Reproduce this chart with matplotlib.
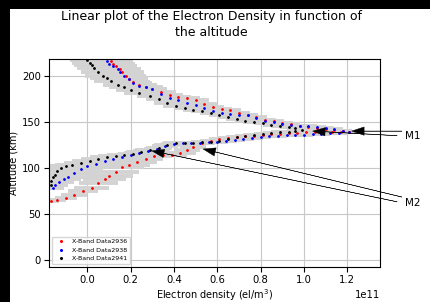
import matplotlib

matplotlib.use("Agg")

import matplotlib.pyplot as plt
from matplotlib.patches import Rectangle
import numpy as np

# densities in units of 1e11 el/m^3, altitudes in km, x-errors in 1e11 el/m^3
red_density = [0.11, 0.12, 0.13, 0.15, 0.16, 0.18, 0.19, 0.21, 0.24, 0.27,
               0.30, 0.34, 0.38, 0.42, 0.46, 0.50, 0.54, 0.58, 0.62, 0.66,
               0.70, 0.74, 0.78, 0.82, 0.86, 0.90, 0.94, 0.98, 1.02, 1.06,
               1.10, 1.14, 1.18, 1.21,
               1.17, 1.13, 1.09, 1.05, 1.01, 0.97, 0.93, 0.89, 0.85, 0.81,
               0.77, 0.73, 0.69, 0.65, 0.61, 0.57, 0.53, 0.49, 0.46, 0.43,
               0.39, 0.35, 0.31, 0.27, 0.23, 0.19, 0.16, 0.13, 0.10, 0.08,
               0.05, 0.02, -0.02, -0.06, -0.10, -0.14, -0.17]
red_altitude = [217, 214, 211, 208, 205, 201, 197, 194, 191, 188,
                186, 183, 180, 178, 176, 174, 170, 167, 165, 163,
                160, 158, 156, 153, 151, 149, 148, 146, 145, 144,
                143, 141.5, 140.5, 140,
                139.5, 139.5, 139, 139, 139, 138.5, 138, 137.5, 137, 136,
                135.5, 135, 134, 133, 131.5, 130, 127, 123, 120, 117,
                115, 114, 113, 110, 107, 104, 101, 96, 92, 88,
                84, 79, 75, 71, 68, 66, 64]
red_error = [0.10, 0.10, 0.10, 0.10, 0.10, 0.09, 0.08, 0.08, 0.08, 0.08,
             0.07, 0.07, 0.06, 0.06, 0.06, 0.06, 0.06, 0.05, 0.05, 0.05,
             0.05, 0.05, 0.05, 0.05, 0.05, 0.05, 0.04, 0.04, 0.04, 0.04,
             0.04, 0.04, 0.04, 0.04,
             0.04, 0.04, 0.04, 0.04, 0.04, 0.04, 0.04, 0.04, 0.04, 0.04,
             0.05, 0.05, 0.05, 0.05, 0.05, 0.05, 0.06, 0.06, 0.06, 0.07,
             0.07, 0.07, 0.08, 0.08, 0.09, 0.10, 0.10, 0.11, 0.11, 0.10,
             0.09, 0.08, 0.07, 0.06, 0.05, 0.04, 0.04]

blue_density = [0.09, 0.10, 0.12, 0.14, 0.15, 0.17, 0.19, 0.21, 0.24, 0.27,
                0.30, 0.34, 0.38, 0.42, 0.46, 0.50, 0.54, 0.58, 0.62, 0.66,
                0.70, 0.74, 0.78, 0.82, 0.86, 0.90, 0.94, 0.98, 1.02, 1.06,
                1.10, 1.14, 1.18, 1.21,
                1.16, 1.12, 1.08, 1.04, 1.00, 0.96, 0.92, 0.88, 0.84, 0.80,
                0.76, 0.72, 0.68, 0.64, 0.60, 0.56, 0.52, 0.48, 0.44, 0.40,
                0.36, 0.32, 0.28, 0.24, 0.20, 0.16, 0.12, 0.08, 0.04, 0.00,
                -0.03, -0.06, -0.09, -0.11, -0.13, -0.15, -0.16]
blue_altitude = [217, 214, 211, 208, 205, 201, 197, 193, 190, 188,
                 186, 181, 177, 174, 171, 169, 166, 162, 160, 159,
                 158, 157.5, 155, 152, 150, 148, 147, 146.5, 146, 145,
                 144, 143, 141, 139.5,
                 138.5, 138, 137.5, 137, 136.5, 136, 136, 135.5, 135, 134,
                 133, 132, 131, 130, 129, 128.5, 128, 127.5, 127, 126.5,
                 124, 121, 119, 117, 114, 112, 110, 108, 105, 102,
                 99, 95, 91, 88, 85, 82, 79]
blue_error = [0.12, 0.12, 0.11, 0.11, 0.10, 0.10, 0.09, 0.09, 0.08, 0.08,
              0.07, 0.07, 0.06, 0.06, 0.06, 0.06, 0.05, 0.05, 0.05, 0.05,
              0.05, 0.05, 0.05, 0.05, 0.05, 0.04, 0.04, 0.04, 0.04, 0.04,
              0.04, 0.04, 0.04, 0.04,
              0.04, 0.04, 0.04, 0.04, 0.04, 0.04, 0.04, 0.04, 0.04, 0.05,
              0.05, 0.05, 0.05, 0.05, 0.05, 0.05, 0.05, 0.05, 0.05, 0.06,
              0.06, 0.06, 0.07, 0.07, 0.08, 0.08, 0.09, 0.09, 0.10, 0.10,
              0.10, 0.10, 0.09, 0.08, 0.07, 0.06, 0.05]

black_density = [0.00, 0.01, 0.02, 0.03, 0.05, 0.07, 0.09, 0.11, 0.14, 0.17,
                 0.20, 0.24, 0.29, 0.33, 0.37, 0.41, 0.45, 0.49, 0.53, 0.57,
                 0.61, 0.65, 0.69, 0.73, 0.77, 0.81, 0.85, 0.89, 0.93, 0.96,
                 0.99,
                 0.96, 0.93, 0.89, 0.85, 0.81, 0.77, 0.73, 0.69, 0.65, 0.61,
                 0.57, 0.53, 0.49, 0.45, 0.41, 0.37, 0.33, 0.29, 0.25, 0.21,
                 0.17, 0.13, 0.09, 0.05, 0.01, -0.03, -0.07, -0.10, -0.12, -0.14,
                 -0.15, -0.16, -0.17, -0.17]
black_altitude = [218, 215, 212, 209, 205, 201, 198, 195, 191, 188,
                  185, 182, 179, 175, 171, 168, 166, 164, 162, 160,
                  158, 156, 154, 152, 150, 149, 147.5, 146, 145, 143.5,
                  142,
                  140.5, 140, 139, 138, 137, 136, 135, 134, 132, 130,
                  129, 128.5, 128, 127.5, 127, 125, 122, 120, 118, 116,
                  115, 113, 112, 110, 108, 106, 104, 102, 100, 97,
                  93, 90, 86, 82]
black_error = [0.08, 0.08, 0.08, 0.08, 0.08, 0.08, 0.08, 0.08, 0.07, 0.07,
               0.07, 0.07, 0.06, 0.06, 0.06, 0.06, 0.05, 0.05, 0.05, 0.05,
               0.05, 0.05, 0.05, 0.05, 0.05, 0.04, 0.04, 0.04, 0.04, 0.04,
               0.04,
               0.04, 0.04, 0.04, 0.04, 0.04, 0.05, 0.05, 0.05, 0.05, 0.05,
               0.05, 0.05, 0.05, 0.05, 0.06, 0.06, 0.06, 0.07, 0.07, 0.07,
               0.08, 0.08, 0.08, 0.08, 0.08, 0.08, 0.08, 0.08, 0.07, 0.06,
               0.06, 0.05, 0.05, 0.04]

SERIES = [
    ("X-Band Data2936", "red", red_density, red_altitude, red_error),
    ("X-Band Data2938", "blue", blue_density, blue_altitude, blue_error),
    ("X-Band Data2941", "black", black_density, black_altitude, black_error),
]

SCALE = 1e11
FONT_TICKS = 7.2

fig = plt.figure(figsize=(4.30, 3.02), dpi=100, facecolor="black")
fig.patches.append(Rectangle((10 / 430, 0), 1, 293 / 302, transform=fig.transFigure,
                             facecolor="white", edgecolor="none", zorder=-1))
ax = fig.add_axes([49 / 430, 35 / 302, 331 / 430, 208 / 302])

# grey error bands first, then the markers on top
for label, color, dens, alt, err in SERIES:
    ax.errorbar(np.array(dens) * SCALE, alt, xerr=np.array(err) * SCALE, fmt="none",
                ecolor="#d3d3d3", elinewidth=2.8, capsize=0, zorder=1)
for label, color, dens, alt, err in SERIES:
    ax.plot(np.array(dens) * SCALE, alt, ".", color=color, markersize=2.0,
            label=label, zorder=3)

ax.set_xlim(-0.177 * SCALE, 1.351 * SCALE)
ax.set_ylim(-7.5, 219)
ax.set_yticks([0, 50, 100, 150, 200])
ax.grid(True, color="#c8c8c8", linewidth=0.8)
ax.set_axisbelow(True)
ax.tick_params(labelsize=FONT_TICKS, pad=2.5)
ax.xaxis.get_offset_text().set_fontsize(FONT_TICKS)
ax.set_xlabel("Electron density (el/m$^3$)", fontsize=7, labelpad=1)
ax.set_ylabel("Altitude (km)", fontsize=7, labelpad=2)

ax.legend(loc="lower left", fontsize=4.5, markerscale=1.2, handlelength=2.0)

fig.text(0.491, 1 - 10 / 302, "Linear plot of the Electron Density in function of\nthe altitude",
         ha="center", va="top", fontsize=9, linespacing=1.3)

arrow = dict(facecolor="black", edgecolor="black", width=0.15, headwidth=6,
             headlength=9, lw=0.3, shrink=0)
ax.annotate("M1", xy=(1.22 * SCALE, 140.5), xytext=(1.465 * SCALE, 135),
            fontsize=7.5, va="center", arrowprops=arrow, annotation_clip=False)
ax.annotate("", xy=(1.04 * SCALE, 140.5), xytext=(1.43 * SCALE, 135.5),
            arrowprops=arrow, annotation_clip=False)
ax.annotate("M2", xy=(0.534 * SCALE, 121), xytext=(1.465 * SCALE, 62.5),
            fontsize=7.5, va="center", arrowprops=arrow, annotation_clip=False)
ax.annotate("", xy=(0.297 * SCALE, 119), xytext=(1.43 * SCALE, 63.5),
            arrowprops=arrow, annotation_clip=False)

fig.savefig("out.png", dpi=100, facecolor=fig.get_facecolor())
